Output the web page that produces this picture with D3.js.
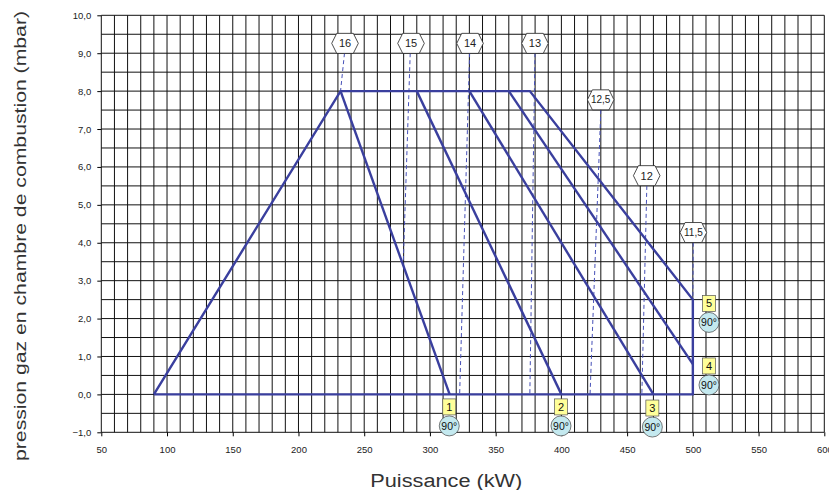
<!DOCTYPE html>
<html>
<head>
<meta charset="utf-8">
<script src="https://cdn.jsdelivr.net/npm/d3@7"></script>
<style>
  body { margin: 0; background: #fff; }
  svg { display: block; font-family: Arial, "Liberation Sans", sans-serif; }
</style>
</head>
<body>
<svg id="chart" width="829" height="490"></svg>
<script>
// axis ticks
var xTicks = [50, 100, 150, 200, 250, 300, 350, 400, 450, 500, 550, 600];
var yTicks = [-1, 0, 1, 2, 3, 4, 5, 6, 7, 8, 9, 10];

// working envelope (kW, mbar)
var envelopeKW   = [90, 232, 376, 500, 500, 90];
var envelopeMbar = [0, 8, 8, 2.5, 0, 0];

// inner curves 1..4, from the 8 mbar line down to their end
var curveTopKW   = [232, 290, 330, 360];
var curveEndKW   = [315, 400, 470, 500];
var curveEndMbar = [0, 0, 0, 0.8];

// dashed iso lines with hexagon labels
var isoLabels    = ["16", "15", "14", "13", "12,5", "12", "11,5"];
var isoLabelKW   = [235.4, 285.6, 330.5, 379.9, 429.9, 464.9, 500.4];
var isoLabelMbar = [9.26, 9.26, 9.26, 9.26, 7.77, 5.77, 4.27];
var isoFromKW    = [235, 285, 330.2, 379.9, 430, 465, 500.3];
var isoFromMbar  = [9.0, 9.0, 9.0, 9.0, 7.5, 5.5, 4.0];
var isoToKW      = [232, 279.7, 322.6, 376, 421.8, 461.2, 500];
var isoToMbar    = [8, 3.46, 0, 0, 0, 0, 2.5];

// numbered markers with their angle badge
var markerLabels = ["1", "2", "3", "4", "5"];
var markerKW     = [314.7, 399.7, 469.2, 512.3, 512.3];
var markerMbar   = [-0.33, -0.33, -0.36, 0.75, 2.40];
var markerAngle  = ["90°", "90°", "90°", "90°", "90°"];

var blue = "#3a3f9e";
var svg = d3.select("#chart");

var x = d3.scaleLinear().domain([50, 600]).range([101.3, 824.3]);
var y = d3.scaleLinear().domain([-1, 10]).range([432.3, 15.3]);

var comma = function(v) { return d3.format(".1f")(v).replace(".", ","); };

// grid
var grid = svg.append("g").attr("stroke", "#111").attr("stroke-width", 1);
grid.selectAll("line.v")
  .data(d3.range(50, 601, 10))
  .enter().append("line")
    .attr("x1", function(d) { return x(d); })
    .attr("x2", function(d) { return x(d); })
    .attr("y1", y(10)).attr("y2", y(-1));
grid.selectAll("line.h")
  .data(d3.range(-1, 10.01, 0.5))
  .enter().append("line")
    .attr("x1", x(50)).attr("x2", x(600))
    .attr("y1", function(d) { return y(d); })
    .attr("y2", function(d) { return y(d); });

// axes
var yAxis = svg.append("g")
    .attr("transform", "translate(" + x(50) + ",0)")
    .call(d3.axisLeft(y).tickValues(yTicks).tickSize(4).tickPadding(6).tickFormat(comma));
var xAxis = svg.append("g")
    .attr("transform", "translate(0," + y(-1) + ")")
    .call(d3.axisBottom(x).tickValues(xTicks).tickSize(4).tickPadding(10).tickFormat(d3.format("d")));
[yAxis, xAxis].forEach(function(a) {
  a.select(".domain").remove();
  a.selectAll("line").attr("stroke", "#000");
  a.selectAll("text").attr("font-size", 9.5).attr("fill", "#222")
    .attr("font-family", "Arial, 'Liberation Sans', sans-serif");
});

// dashed iso lines
var iso = isoLabels.map(function(l, i) {
  return { label: l, lx: isoLabelKW[i], ly: isoLabelMbar[i],
           x1: isoFromKW[i], y1: isoFromMbar[i], x2: isoToKW[i], y2: isoToMbar[i] };
});
svg.append("g").selectAll("line")
  .data(iso)
  .enter().append("line")
    .attr("x1", function(d) { return x(d.x1); })
    .attr("y1", function(d) { return y(d.y1); })
    .attr("x2", function(d) { return x(d.x2); })
    .attr("y2", function(d) { return y(d.y2); })
    .attr("stroke", "#4650b8")
    .attr("stroke-width", 1)
    .attr("stroke-dasharray", "4,3");

// envelope + curves
var line = d3.line()
    .x(function(d) { return x(d[0]); })
    .y(function(d) { return y(d[1]); });
var lines = svg.append("g").attr("fill", "none").attr("stroke", blue)
    .attr("stroke-width", 2.4).attr("stroke-linejoin", "miter");
lines.append("path")
    .datum(envelopeKW.map(function(v, i) { return [v, envelopeMbar[i]]; }))
    .attr("d", line);
lines.selectAll("path.curve")
  .data(curveTopKW.map(function(v, i) { return [[v, 8], [curveEndKW[i], curveEndMbar[i]]]; }))
  .enter().append("path")
    .attr("class", "curve")
    .attr("d", line);

// hexagon labels
var hw = 13.3, hf = 8.3, hh = 10;
var hexPath = "M" + (-hw) + ",0L" + (-hf) + "," + (-hh) + "L" + hf + "," + (-hh) +
              "L" + hw + ",0L" + hf + "," + hh + "L" + (-hf) + "," + hh + "Z";
var hex = svg.append("g").selectAll("g")
  .data(iso)
  .enter().append("g")
    .attr("transform", function(d) { return "translate(" + x(d.lx) + "," + y(d.ly) + ")"; });
hex.append("path").attr("d", hexPath)
    .attr("fill", "#fff").attr("stroke", "#222").attr("stroke-width", 0.8);
hex.append("text")
    .attr("text-anchor", "middle").attr("dy", "0.36em")
    .attr("font-size", function(d) { return d.label.length > 2 ? 10 : 11; })
    .attr("fill", "#222")
    .text(function(d) { return d.label; });

// numbered markers
var mk = svg.append("g").selectAll("g")
  .data(markerLabels.map(function(l, i) {
    return { label: l, kw: markerKW[i], mb: markerMbar[i], angle: markerAngle[i] };
  }))
  .enter().append("g")
    .attr("transform", function(d) { return "translate(" + x(d.kw) + "," + y(d.mb) + ")"; });
mk.append("rect")
    .attr("x", -6.5).attr("y", -8).attr("width", 13).attr("height", 16)
    .attr("fill", "#ffff99").attr("stroke", "#555").attr("stroke-width", 0.7);
mk.append("text")
    .attr("text-anchor", "middle").attr("dy", "0.36em")
    .attr("font-size", 11).attr("fill", "#111")
    .text(function(d) { return d.label; });
mk.append("circle")
    .attr("cy", 19).attr("r", 10)
    .attr("fill", "#c4e9ef").attr("stroke", "#444").attr("stroke-width", 0.7);
mk.append("text")
    .attr("y", 19).attr("text-anchor", "middle").attr("dy", "0.36em")
    .attr("font-size", 10.5).attr("fill", "#111")
    .text(function(d) { return d.angle; });

// axis titles
svg.append("text")
    .attr("x", 446.3).attr("y", 486.5)
    .attr("text-anchor", "middle")
    .attr("font-size", 18).attr("fill", "#333")
    .attr("textLength", 152).attr("lengthAdjust", "spacingAndGlyphs")
    .text("Puissance (kW)");
svg.append("text")
    .attr("transform", "translate(26,236) rotate(-90)")
    .attr("text-anchor", "middle")
    .attr("font-size", 17).attr("fill", "#333")
    .attr("textLength", 450).attr("lengthAdjust", "spacingAndGlyphs")
    .text("pression gaz en chambre de combustion (mbar)");
</script>
</body>
</html>
